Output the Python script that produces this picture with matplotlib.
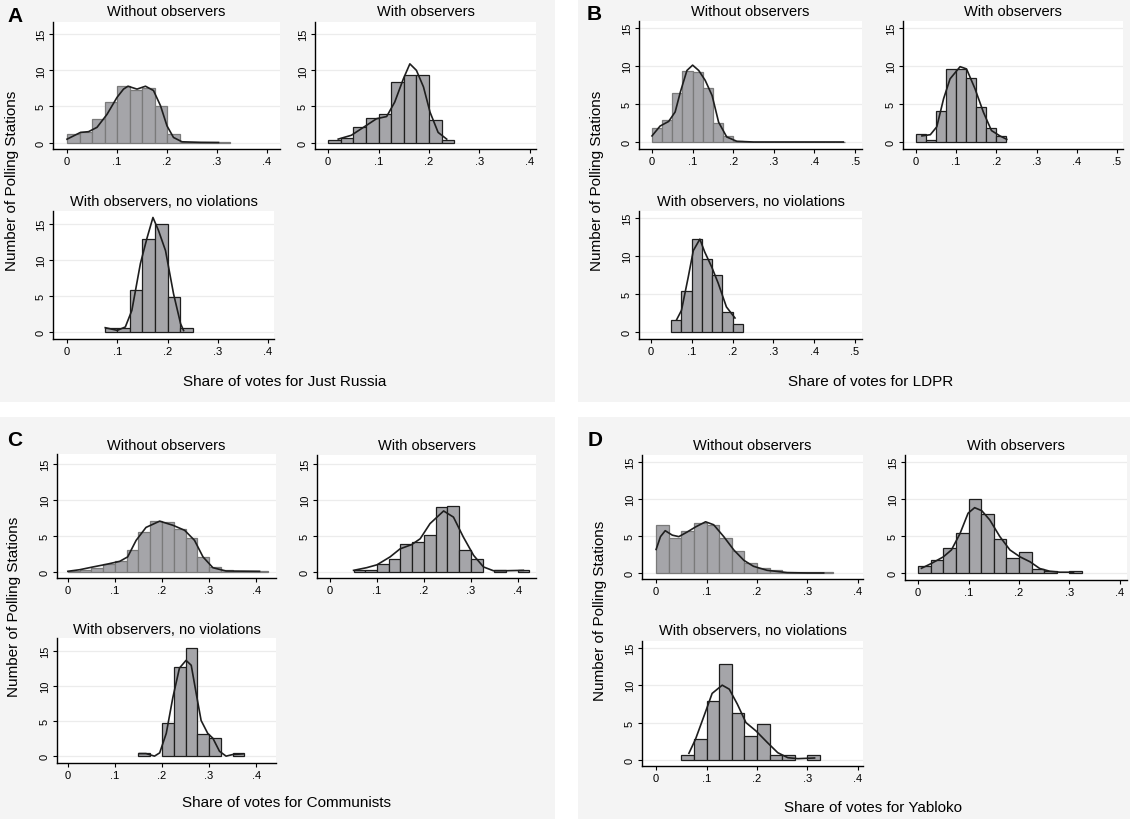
import matplotlib
matplotlib.use("Agg")
import matplotlib.pyplot as plt
from matplotlib.patches import Rectangle

plt.rcParams['font.family'] = ['Liberation Sans', 'DejaVu Sans']

W, H = 1130, 820
BIN = 0.025

# ---------- data: bin heights (first bin starts at *_start), kde points ----------
# Just Russia
jr_wo_start = 0.0
jr_wo = [1.15, 1.5, 3.3, 5.6, 7.8, 7.3, 7.5, 5.0, 1.15, 0.12, 0.06, 0.06, 0.06]
jr_wo_kx = [0, .027, .043, .06, .08, .1, .113, .122, .14, .157, .173, .187, .2, .213, .23, .267, .303]
jr_wo_ky = [.46, 1.4, 1.5, 2.1, 3.9, 6.25, 7.4, 7.8, 7.4, 7.8, 7.2, 5.1, 2.3, .7, .1, .02, 0]

jr_w_start = 0.0
jr_w = [0.28, 0.56, 2.1, 3.35, 3.9, 8.4, 9.3, 9.3, 3.07, 0.28]
jr_w_kx = [.02, .046, .07, .096, .116, .132, .149, .162, .175, .189, .202, .218, .235]
jr_w_ky = [.47, 1.0, 2.1, 3.3, 3.6, 5.6, 8.8, 10.9, 10.0, 7.7, 4.2, 1.4, .47]

jr_nv_start = 0.075
jr_nv = [0.56, 0.56, 5.9, 12.96, 15.0, 4.86, 0.56]
jr_nv_kx = [.076, .1, .116, .129, .146, .159, .171, .182, .196, .212, .226, .232]
jr_nv_ky = [.6, .23, .7, 3.0, 9.5, 13.0, 15.9, 14.1, 11.3, 5.3, 1.16, .2]

# LDPR
ld_wo_start = 0.0
ld_wo = [1.84, 2.9, 6.45, 9.3, 9.2, 7.1, 2.5, 0.83, 0.1,
         0.03, 0.03, 0.03, 0.03, 0.03, 0.03, 0.03, 0.03, 0.03, 0.03]
ld_wo_kx = [0, .02, .041, .057, .07, .086, .1, .115, .131, .148, .164, .184, .209, .25, .471]
ld_wo_ky = [.8, 2.1, 2.7, 3.95, 6.6, 9.4, 10.1, 9.4, 8.1, 6.1, 2.6, .66, .09, 0, 0]

ld_w_start = 0.0
ld_w = [1.05, 0.22, 4.1, 9.6, 9.6, 8.4, 4.6, 1.84, 0.8]
ld_w_kx = [.015, .036, .052, .069, .085, .11, .126, .147, .168, .188, .209, .226]
ld_w_ky = [.8, .96, 2.0, 5.7, 8.3, 9.9, 9.6, 7.0, 3.9, 1.5, .8, .35]

ld_nv_start = 0.05
ld_nv = [1.58, 5.4, 12.2, 9.6, 7.5, 2.6, 1.05]
ld_nv_kx = [.063, .075, .0915, .104, .12, .132, .149, .165, .185, .206]
ld_nv_ky = [1.6, 2.85, 7.2, 10.7, 12.2, 10.5, 8.55, 6.4, 3.3, 1.84]

# Communists
cp_wo_start = 0.0
cp_wo = [0.14, 0.32, 0.6, 1.06, 1.6, 3.05, 5.5, 7.07, 6.93, 5.96, 4.67, 2.08,
         0.7, 0.23, 0.14, 0.14, 0.18]
cp_wo_kx = [0, .025, .053, .081, .11, .127, .145, .166, .195, .223, .248, .269, .287, .308, .336, .407]
cp_wo_ky = [.1, .32, .7, 1.06, 1.48, 2.1, 4.4, 6.2, 7.07, 6.5, 5.8, 4.4, 2.1, .6, .14, .1]

cp_w_start = 0.05
cp_w = [0.32, 0.32, 1.1, 1.8, 3.9, 4.15, 5.1, 9.0, 9.15, 3.05, 1.8, 0, 0.32, 0, 0.32]
cp_w_kx = [.05, .078, .1, .128, .149, .174, .192, .213, .242, .263, .284, .306, .327, .348, .377, .412]
cp_w_ky = [.23, .6, 1.0, 2.1, 3.2, 3.8, 4.6, 6.7, 8.45, 7.6, 4.85, 2.3, .7, .18, .18, .23]

cp_nv_start = 0.15
cp_nv = [0.46, 0, 4.8, 12.75, 15.45, 3.16, 2.56, 0, 0.46]
cp_nv_kx = [.152, .166, .184, .195, .209, .223, .237, .251, .262, .273, .283, .297, .308,
            .322, .336, .35, .372]
cp_nv_ky = [.37, .37, 0, .47, 3.26, 8.4, 12.6, 13.7, 13.0, 8.8, 5.1, 3.26, 2.56,
            .7, 0, .23, .33]

# Yabloko
yb_wo_start = 0.0
yb_wo = [6.4, 4.66, 5.7, 6.8, 6.5, 4.75, 3.0, 1.36, 0.72, 0.45, 0.18, 0.09, 0.09, 0.09]
yb_wo_kx = [0, .0086, .018, .032, .045, .061, .078, .098, .114, .134, .154, .174, .193, .22, .26, .3, .332]
yb_wo_ky = [3.17, 4.9, 5.7, 5.1, 4.9, 5.5, 6.2, 6.9, 6.5, 4.9, 3.1, 1.7, .9, .36, .05, 0, 0]

yb_w_start = 0.0
yb_w = [0.9, 1.8, 3.4, 5.43, 10.0, 8.0, 4.57, 2.04, 2.85, 0.54, 0.27, 0, 0.27]
yb_w_kx = [.0066, .026, .05, .066, .083, .099, .112, .126, .142, .162, .182, .202, .222,
           .241, .261, .281, .308]
yb_w_ky = [.63, 1.27, 2.17, 3.1, 5.3, 8.05, 8.8, 8.4, 7.15, 4.9, 3.1, 2.17, 1.5,
           .6, .23, .1, .1]

yb_nv_start = 0.05
yb_nv = [0.63, 2.77, 7.95, 12.8, 6.34, 3.2, 4.87, 0.63, 0.63, 0, 0.63]
yb_nv_kx = [.065, .078, .095, .111, .131, .145, .161, .178, .198, .221, .241, .261, .281, .314]
yb_nv_ky = [.9, 2.77, 5.9, 8.9, 10.0, 9.46, 7.46, 5.0, 3.88, 2.3, .98, .31, .18, .27]

titles = ["Without observers", "With observers", "With observers, no violations"]
parties = ["Just Russia", "LDPR", "Communists", "Yabloko"]
letters = ["A", "B", "C", "D"]

# ---------- layout (pixels) ----------
panel_boxes = [(0, 0, 555, 403), (578, 0, 1130, 403),
               (0, 418, 555, 820), (578, 418, 1130, 820)]

# (left, top, right, bottom), xlim, ylim, title y
axes_specs = [
    [((53, 23, 280, 150), (-0.028, 0.426), (-0.9, 16.7), 12),
     ((315, 23, 536, 150), (-0.026, 0.412), (-0.9, 16.7), 12),
     ((53, 212, 274, 340), (-0.028, 0.412), (-0.97, 16.8), 202)],
    [((639, 22, 862, 150), (-0.032, 0.517), (-0.92, 15.9), 12),
     ((903, 22, 1123, 150), (-0.032, 0.515), (-0.92, 15.9), 12),
     ((639, 212, 862, 340), (-0.029, 0.517), (-0.92, 15.9), 202)],
    [((57, 455, 276, 579), (-0.023, 0.442), (-0.83, 16.4), 446),
     ((317, 456, 536, 579), (-0.028, 0.439), (-0.83, 16.2), 446),
     ((57, 639, 276, 764), (-0.023, 0.442), (-0.98, 16.9), 630)],
    [((642, 456, 863, 580), (-0.028, 0.41), (-0.81, 15.9), 446),
     ((905, 456, 1127, 581), (-0.026, 0.414), (-0.95, 15.9), 446),
     ((642, 642, 863, 767), (-0.028, 0.41), (-0.8, 15.9), 631)],
]
xticks_sets = [[0, .1, .2, .3, .4], [0, .1, .2, .3, .4, .5],
               [0, .1, .2, .3, .4], [0, .1, .2, .3, .4]]
xlab_pos = [(285, 382), (871, 382), (286, 803), (873, 808)]
ylab_pos = [(12, 181), (597, 181), (14, 607), (600, 611)]
letter_pos = [(15, 16), (594, 15), (15, 441), (595, 441)]

hist_data = [
    [(jr_wo_start, jr_wo, jr_wo_kx, jr_wo_ky), (jr_w_start, jr_w, jr_w_kx, jr_w_ky),
     (jr_nv_start, jr_nv, jr_nv_kx, jr_nv_ky)],
    [(ld_wo_start, ld_wo, ld_wo_kx, ld_wo_ky), (ld_w_start, ld_w, ld_w_kx, ld_w_ky),
     (ld_nv_start, ld_nv, ld_nv_kx, ld_nv_ky)],
    [(cp_wo_start, cp_wo, cp_wo_kx, cp_wo_ky), (cp_w_start, cp_w, cp_w_kx, cp_w_ky),
     (cp_nv_start, cp_nv, cp_nv_kx, cp_nv_ky)],
    [(yb_wo_start, yb_wo, yb_wo_kx, yb_wo_ky), (yb_w_start, yb_w, yb_w_kx, yb_w_ky),
     (yb_nv_start, yb_nv, yb_nv_kx, yb_nv_ky)],
]


def fx(x):
    return x / W


def fy(y):
    return 1 - y / H


def tick_label(v):
    s = ("%g" % v)
    return s[1:] if s.startswith("0.") else s


fig = plt.figure(figsize=(W / 100, H / 100), dpi=100, facecolor="white")

for (l, t, r, b) in panel_boxes:
    fig.add_artist(Rectangle((fx(l), fy(b)), (r - l) / W, (b - t) / H,
                             transform=fig.transFigure, facecolor="#f4f4f4",
                             edgecolor="none", zorder=0))

for p in range(4):
    for k in range(3):
        (l, t, r, b), xl, yl, ty = axes_specs[p][k]
        start, heights, kx, ky = hist_data[p][k]
        ax = fig.add_axes([fx(l), fy(b), (r - l) / W, (b - t) / H])
        ax.set_facecolor("white")
        lefts = [start + i * BIN for i in range(len(heights)) if heights[i] > 0]
        hs = [h for h in heights if h > 0]
        edge = "#7a7a7a" if k == 0 else "#1e1e1e"
        ax.bar(lefts, hs, width=BIN, align="edge", color="#a5a5a9",
               edgecolor=edge, linewidth=0.9, zorder=2)
        ax.plot(kx, ky, color="#1e1e1e", linewidth=1.2, zorder=3)
        ax.set_xlim(*xl)
        ax.set_ylim(*yl)
        ax.set_yticks([0, 5, 10, 15])
        ax.set_xticks(xticks_sets[p])
        ax.set_xticklabels([tick_label(v) for v in xticks_sets[p]])
        ax.grid(axis="y", color="#ececec", linewidth=0.9, zorder=0)
        ax.set_axisbelow(True)
        for s in ["top", "right"]:
            ax.spines[s].set_visible(False)
        for s in ["left", "bottom"]:
            ax.spines[s].set_linewidth(1.0)
            ax.spines[s].set_color("black")
        ax.tick_params(axis="both", direction="out", length=3, width=0.8,
                       labelsize=8, pad=2)
        for lab in ax.get_yticklabels():
            lab.set_rotation(90)
            lab.set_va("center")
        fig.text(fx((l + r) / 2), fy(ty), titles[k], ha="center", va="center",
                 fontsize=10.5)

    fig.text(fx(xlab_pos[p][0]), fy(xlab_pos[p][1]), "Share of votes for " + parties[p],
             ha="center", va="center", fontsize=11)
    fig.text(fx(ylab_pos[p][0]), fy(ylab_pos[p][1]), "Number of Polling Stations",
             ha="center", va="center", rotation=90, fontsize=11)
    fig.text(fx(letter_pos[p][0]), fy(letter_pos[p][1]), letters[p],
             ha="center", va="center", fontsize=15, fontweight="bold")

fig.savefig("out.png", dpi=100, facecolor="white")
